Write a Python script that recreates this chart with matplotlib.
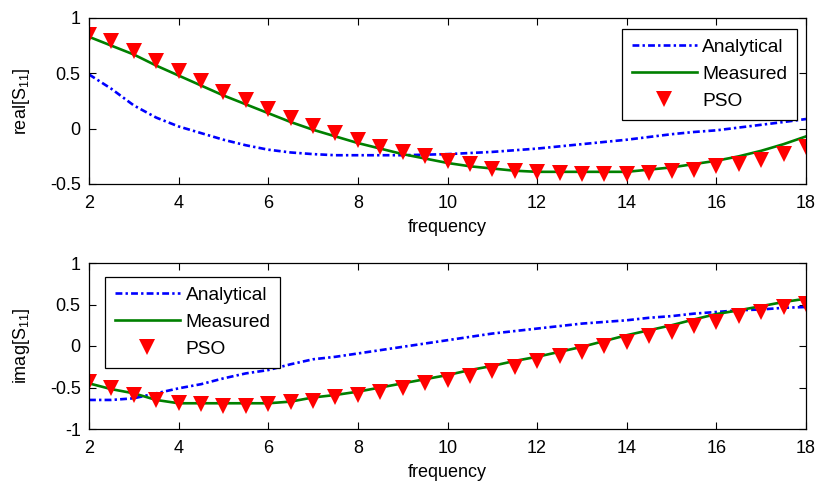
import matplotlib
matplotlib.use("Agg")
import matplotlib.pyplot as plt

plt.rcParams['font.family'] = ['Liberation Sans', 'DejaVu Sans']
plt.rcParams['axes.unicode_minus'] = False
plt.rcParams['mathtext.fontset'] = 'custom'
plt.rcParams['mathtext.rm'] = 'Liberation Sans'
plt.rcParams['mathtext.it'] = 'Liberation Sans'

# Frequency grids
freq_line = [2, 2.5, 3, 3.5, 4, 4.5, 5, 5.5, 6, 6.5, 7, 7.5, 8, 8.5, 9, 9.5,
             10, 10.5, 11, 11.5, 12, 12.5, 13, 13.5, 14, 14.5, 15, 15.5,
             16, 16.5, 17, 17.5, 18]
freq_pso = freq_line

# Real part of S11
real_analytical = [0.49, 0.36, 0.21, 0.10, 0.02, -0.04, -0.10, -0.15, -0.19,
                   -0.215, -0.23, -0.24, -0.24, -0.24, -0.24, -0.235,
                   -0.23, -0.22, -0.21, -0.195, -0.18, -0.16, -0.14, -0.12,
                   -0.10, -0.075, -0.05, -0.03, -0.015, 0.01, 0.035, 0.06, 0.087]
real_measured = [0.83, 0.75, 0.67, 0.57, 0.48, 0.39, 0.30, 0.22, 0.14,
                 0.06, -0.01, -0.07, -0.13, -0.18, -0.23, -0.27,
                 -0.31, -0.34, -0.36, -0.38, -0.39, -0.39, -0.39, -0.39,
                 -0.39, -0.37, -0.35, -0.32, -0.29, -0.25, -0.20, -0.14, -0.07]
real_pso = [0.85, 0.79, 0.70, 0.61, 0.52, 0.43, 0.33, 0.26, 0.18,
            0.10, 0.02, -0.04, -0.10, -0.17, -0.21, -0.25,
            -0.29, -0.32, -0.36, -0.38, -0.39, -0.40, -0.41, -0.41,
            -0.41, -0.40, -0.38, -0.37, -0.34, -0.32, -0.28, -0.23, -0.17]

# Imaginary part of S11
imag_analytical = [-0.65, -0.65, -0.63, -0.57, -0.51, -0.46, -0.39, -0.33, -0.29,
                   -0.22, -0.16, -0.13, -0.09, -0.05, -0.01, 0.03,
                   0.07, 0.11, 0.15, 0.18, 0.21, 0.24, 0.27, 0.29,
                   0.31, 0.34, 0.36, 0.39, 0.41, 0.43, 0.44, 0.46, 0.47]
imag_measured = [-0.45, -0.52, -0.57, -0.65, -0.69, -0.69, -0.69, -0.69, -0.69,
                 -0.67, -0.62, -0.59, -0.55, -0.50, -0.45, -0.40,
                 -0.35, -0.29, -0.24, -0.18, -0.13, -0.07, -0.01, 0.06,
                 0.13, 0.19, 0.25, 0.32, 0.385, 0.43, 0.48, 0.53, 0.57]
imag_pso = [-0.43, -0.51, -0.59, -0.65, -0.69, -0.70, -0.72, -0.72, -0.70,
            -0.68, -0.66, -0.62, -0.59, -0.55, -0.50, -0.45,
            -0.41, -0.36, -0.30, -0.25, -0.18, -0.12, -0.07, 0.0,
            0.05, 0.12, 0.17, 0.24, 0.29, 0.36, 0.41, 0.47, 0.51]

x_ticks = [2, 4, 6, 8, 10, 12, 14, 16, 18]
top_yticks = [-0.5, 0, 0.5, 1]
bottom_yticks = [-1, -0.5, 0, 0.5, 1]

W, H = 817, 482
fig = plt.figure(figsize=(W / 100, H / 100), dpi=100)

ax1 = fig.add_axes([89 / W, 1 - 184 / H, (806 - 89) / W, (184 - 18) / H])
ax2 = fig.add_axes([89 / W, 1 - 429 / H, (806 - 89) / W, (429 - 263) / H])

FS = 13


def fmt(v):
    return '%g' % v


def style(ax, yticks, ylim, ylabel):
    ax.set_xlim(2, 18)
    ax.set_ylim(*ylim)
    ax.set_xticks(x_ticks)
    ax.set_xticklabels([fmt(v) for v in x_ticks], fontsize=FS)
    ax.set_yticks(yticks)
    ax.set_yticklabels([fmt(v) for v in yticks], fontsize=FS)
    ax.tick_params(direction='in', top=True, right=True, length=5, width=0.8,
                   colors='black')
    ax.tick_params(axis='x', pad=8)
    ax.tick_params(axis='y', pad=6)
    for s in ax.spines.values():
        s.set_linewidth(0.9)
    ax.set_xlabel('frequency', fontsize=FS, labelpad=5)
    ax.set_ylabel(ylabel, fontsize=FS, labelpad=13)


def draw(ax, analytical, measured, pso):
    ax.plot(freq_line, analytical, color='#0000ff', lw=1.9,
            dashes=(2.6, 1.2, 0.9, 1.2), label='Analytical')
    ax.plot(freq_line, measured, color='#008000', linestyle='-', lw=1.9,
            label='Measured')
    ax.plot(freq_pso, pso, linestyle='none', marker='v', color='#ff0000',
            markersize=11, markeredgewidth=0, label='PSO')


draw(ax1, real_analytical, real_measured, real_pso)
style(ax1, top_yticks, (-0.5, 1), 'real[S$_{11}$]')
draw(ax2, imag_analytical, imag_measured, imag_pso)
style(ax2, bottom_yticks, (-1, 1), 'imag[S$_{11}$]')

leg_kw = dict(fontsize=13.8, fancybox=False, framealpha=1, edgecolor='black',
              handlelength=3.4, handletextpad=0.3, borderpad=0.5,
              labelspacing=0.5, borderaxespad=0, bbox_transform=fig.transFigure)
l1 = ax1.legend(loc='upper right', bbox_to_anchor=(797 / W, 1 - 29 / H), **leg_kw)
l2 = ax2.legend(loc='upper left', bbox_to_anchor=(105 / W, 1 - 277 / H), **leg_kw)
for lg in (l1, l2):
    lg.get_frame().set_linewidth(0.9)

fig.savefig('out.png', dpi=100)
